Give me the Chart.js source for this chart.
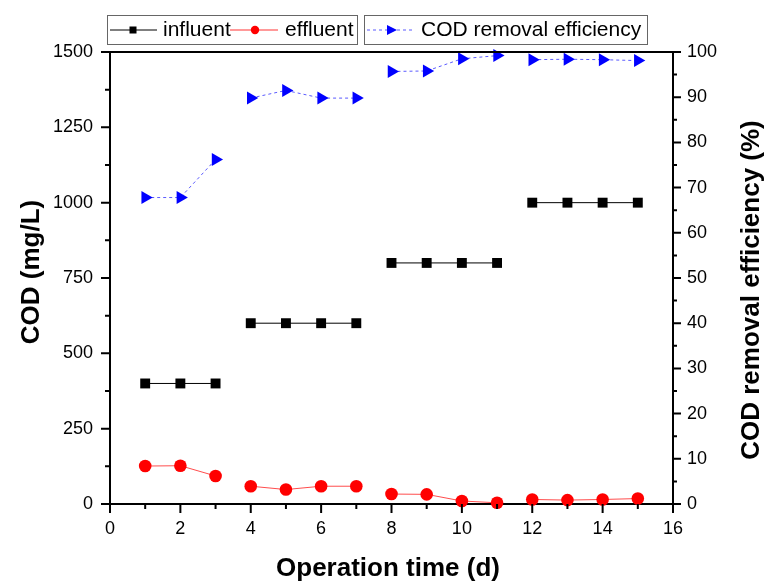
<!DOCTYPE html>
<html>
<head>
<meta charset="utf-8">
<script src="https://cdn.jsdelivr.net/npm/chart.js@4.4.0/dist/chart.umd.min.js"></script>
<style>
  html, body { margin: 0; padding: 0; background: #fff; }
</style>
</head>
<body>
<canvas id="myChart" width="765" height="583"></canvas>
<script>
// data
const days = [1, 2, 3, 4, 5, 6, 7, 8, 9, 10, 11, 12, 13, 14, 15];
const influent = [400, 400, 400, 600, 600, 600, 600, 800, 800, 800, 800, 1000, 1000, 1000, 1000];
const effluent = [126, 127, 93, 59, 48, 59, 59, 33, 32, 10, 4, 15, 13, 15, 18];
const efficiency = [67.8, 67.8, 76.2, 89.8, 91.5, 89.8, 89.8, 95.7, 95.8, 98.5, 99.2, 98.3, 98.4, 98.3, 98.1];
const breakAfter = [3, 7, 11]; // line is not drawn between the stages
const xTickStep = 2;
const codTickStep = 250;
const effTickStep = 10;

var FONT = "'Liberation Sans', Arial, sans-serif";

function points(vals) {
  return days.map(function (d, i) {
    return { x: d, y: vals[i] };
  });
}
function segColor(color) {
  return function (ctx) {
    return breakAfter.includes(ctx.p0.parsed.x) ? "rgba(0,0,0,0)" : color;
  };
}

//////////////////////////// extra drawing: ticks, frame, titles, legend
const extras = {
  id: "extras",
  afterDraw: function (chart) {
    var ctx = chart.ctx;
    var a = chart.chartArea;
    var sx = chart.scales.x, sy = chart.scales.y, sy2 = chart.scales.y2;
    ctx.save();
    ctx.strokeStyle = "#000";
    ctx.lineWidth = 2;
    ctx.beginPath();
    ctx.moveTo(a.left - 1, a.top);
    ctx.lineTo(a.right + 1, a.top);
    ctx.stroke();

    // tick marks (major + minor)
    ctx.lineWidth = 2;
    ctx.beginPath();
    for (var v = 0; v <= 16; v += 1) {
      var px = sx.getPixelForValue(v);
      var len = v % xTickStep === 0 ? 9 : 5;
      ctx.moveTo(px, a.bottom);
      ctx.lineTo(px, a.bottom + len);
    }
    for (var c = 0; c <= 1500; c += codTickStep / 2) {
      var py = sy.getPixelForValue(c);
      var l1 = c % codTickStep === 0 ? 9 : 5;
      ctx.moveTo(a.left, py);
      ctx.lineTo(a.left - l1, py);
    }
    for (var e = 0; e <= 100; e += effTickStep / 2) {
      var py2 = sy2.getPixelForValue(e);
      var l2 = e % effTickStep === 0 ? 8 : 4;
      ctx.moveTo(a.right, py2);
      ctx.lineTo(a.right + l2, py2);
    }
    ctx.stroke();

    // axis titles
    ctx.fillStyle = "#000";
    ctx.font = "bold 26px " + FONT;
    ctx.textAlign = "center";
    ctx.textBaseline = "middle";
    ctx.fillText("Operation time (d)", 388, 569);
    ctx.save();
    ctx.translate(32, 272);
    ctx.rotate(-Math.PI / 2);
    ctx.fillText("COD (mg/L)", 0, 0);
    ctx.restore();
    ctx.save();
    ctx.translate(752, 290);
    ctx.rotate(-Math.PI / 2);
    ctx.fillText("COD removal efficiency (%)", 0, 0);
    ctx.restore();

    // legend boxes
    ctx.lineWidth = 1;
    ctx.strokeStyle = "#666";
    ctx.strokeRect(107.5, 15.5, 250, 29);
    ctx.strokeRect(364.5, 15.5, 283, 29);
    var ly = 30;
    ctx.font = "21px " + FONT;
    ctx.textAlign = "left";
    // influent
    ctx.strokeStyle = "#000";
    ctx.beginPath();
    ctx.moveTo(110, ly);
    ctx.lineTo(157, ly);
    ctx.stroke();
    ctx.fillStyle = "#000";
    ctx.fillRect(129.5, ly - 3.5, 7, 7);
    ctx.fillText("influent", 163, ly);
    // effluent
    ctx.strokeStyle = "rgba(255,0,0,0.8)";
    ctx.beginPath();
    ctx.moveTo(230, ly);
    ctx.lineTo(278, ly);
    ctx.stroke();
    ctx.fillStyle = "#f00";
    ctx.beginPath();
    ctx.arc(255, ly, 4.2, 0, Math.PI * 2);
    ctx.fill();
    ctx.fillStyle = "#000";
    ctx.fillText("effluent", 285, ly);
    // efficiency
    ctx.strokeStyle = "#5a5aff";
    ctx.setLineDash([3, 3]);
    ctx.beginPath();
    ctx.moveTo(367, ly);
    ctx.lineTo(413, ly);
    ctx.stroke();
    ctx.setLineDash([]);
    ctx.fillStyle = "#0000ff";
    ctx.beginPath();
    ctx.moveTo(397, ly);
    ctx.lineTo(387, ly - 5);
    ctx.lineTo(387, ly + 5);
    ctx.closePath();
    ctx.fill();
    ctx.fillStyle = "#000";
    ctx.fillText("COD removal efficiency", 421, ly);
    ctx.restore();
  },
};

const data = {
  datasets: [
    {
      label: "influent",
      data: points(influent),
      yAxisID: "y",
      borderColor: "#000",
      borderWidth: 1,
      backgroundColor: "#000",
      pointStyle: "rect",
      pointRadius: 7,
      pointBorderWidth: 0,
      segment: { borderColor: segColor("#000") },
      clip: false,
    },
    {
      label: "effluent",
      data: points(effluent),
      yAxisID: "y",
      borderColor: "rgba(255,0,0,0.7)",
      borderWidth: 1,
      backgroundColor: "#f00",
      pointBackgroundColor: "#f00",
      pointBorderColor: "#f00",
      pointStyle: "circle",
      pointRadius: 6.3,
      pointBorderWidth: 0,
      segment: { borderColor: segColor("rgba(255,0,0,0.7)") },
      clip: false,
    },
    {
      label: "COD removal efficiency",
      data: points(efficiency),
      yAxisID: "y2",
      borderColor: "#5a5aff",
      borderWidth: 1,
      borderDash: [3, 3],
      backgroundColor: "#0000ff",
      pointBackgroundColor: "#0000ff",
      pointBorderColor: "#0000ff",
      pointStyle: "triangle",
      rotation: 90,
      pointRadius: 7.5,
      pointBorderWidth: 0,
      segment: { borderColor: segColor("#5a5aff") },
      clip: false,
    },
  ],
};

const tickFont = { family: FONT, size: 18 };
function plain(v) {
  return String(v);
}

const config = {
  type: "line",
  data: data,
  options: {
    responsive: false,
    animation: false,
    layout: { padding: { top: 52, left: 0, right: 0, bottom: 0 } },
    plugins: { legend: { display: false }, tooltip: { enabled: false } },
    scales: {
      x: {
        type: "linear",
        min: 0,
        max: 16,
        ticks: { stepSize: xTickStep, font: tickFont, color: "#000", padding: 6, maxRotation: 0, callback: plain },
        grid: { display: false },
        border: { display: true, color: "#000", width: 2 },
        afterFit: function (s) { s.height = 79; },
      },
      y: {
        position: "left",
        min: 0,
        max: 1500,
        ticks: { stepSize: codTickStep, font: tickFont, color: "#000", padding: 9, callback: plain },
        grid: { display: false },
        border: { display: true, color: "#000", width: 2 },
        afterFit: function (s) { s.width = 110; },
      },
      y2: {
        position: "right",
        min: 0,
        max: 100,
        ticks: { stepSize: effTickStep, font: tickFont, color: "#000", padding: 6, callback: plain },
        grid: { display: false },
        border: { display: true, color: "#000", width: 2 },
        afterFit: function (s) { s.width = 92; },
      },
    },
  },
  plugins: [extras],
};

const myChart = new Chart(document.getElementById("myChart"), config);
</script>
</body>
</html>
